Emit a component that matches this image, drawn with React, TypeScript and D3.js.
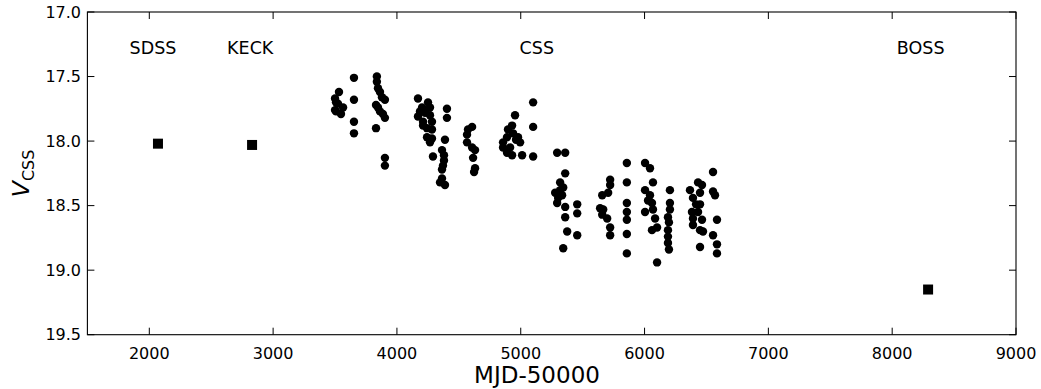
import React from 'react';
import * as d3 from 'd3';

// CSS light curve (MJD-50000, V mag)
const cssMjd = [
  3532, 3500, 3508, 3524, 3565, 3508, 3548, 3500,
  3653, 3653, 3653, 3653,
  3838, 3838, 3847, 3863, 3879, 3903, 3831, 3847, 3863, 3887, 3903, 3831, 3903, 3903,
  4170, 4251, 4203, 4267, 4170, 4227, 4267, 4211, 4283, 4243, 4283, 4243, 4283, 4267, 4211, 4186, 4291,
  4404, 4404, 4388, 4364, 4380, 4372, 4364, 4364, 4388, 4348, 4380,
  4607, 4574, 4566, 4566, 4607, 4631, 4615, 4631, 4623,
  4954, 4930, 4889, 4938, 4978, 4857, 4914, 4995, 4889, 4930, 5011, 4857, 4962, 4897,
  5100, 5100, 5100,
  5294, 5359, 5359, 5318, 5278, 5334, 5294, 5359, 5359, 5318, 5302, 5343,
  5456, 5456, 5375, 5456, 5343,
  5658, 5722, 5722, 5706, 5641, 5666, 5658, 5698, 5722, 5722,
  5857, 5857, 5857, 5857, 5857, 5857, 5857,
  6004, 6044, 6068, 6004, 6044, 6060, 6004, 6068, 6085, 6101, 6060, 6101, 6028,
  6205, 6205, 6205, 6189, 6197, 6189, 6189, 6189, 6197,
  6367, 6432, 6464, 6448, 6391, 6448, 6383, 6432, 6391, 6464, 6391, 6448, 6472, 6448, 6416,
  6553, 6553, 6569, 6585, 6553, 6585, 6585,
];
const cssMag = [
  17.62, 17.67, 17.70, 17.71, 17.74, 17.77, 17.79, 17.76,
  17.51, 17.68, 17.85, 17.94,
  17.50, 17.54, 17.59, 17.62, 17.66, 17.68, 17.72, 17.74, 17.77, 17.79, 17.82, 17.90, 18.13, 18.19,
  17.67, 17.70, 17.74, 17.74, 17.81, 17.78, 17.80, 17.85, 17.85, 17.90, 17.91, 17.97, 17.98, 18.01, 17.88, 17.77, 18.12,
  17.75, 17.82, 17.99, 18.07, 18.11, 18.19, 18.22, 18.29, 18.34, 18.32, 18.15,
  17.89, 17.91, 17.95, 18.01, 18.05, 18.07, 18.13, 18.21, 18.24,
  17.80, 17.88, 17.97, 17.94, 17.97, 18.01, 18.05, 18.01, 18.09, 18.11, 18.11, 18.05, 17.99, 17.91,
  17.70, 17.89, 18.12,
  18.09, 18.09, 18.25, 18.32, 18.40, 18.42, 18.48, 18.51, 18.59, 18.38, 18.44, 18.36,
  18.49, 18.56, 18.70, 18.73, 18.83,
  18.42, 18.30, 18.34, 18.40, 18.52, 18.53, 18.57, 18.60, 18.67, 18.73,
  18.17, 18.32, 18.48, 18.55, 18.61, 18.72, 18.87,
  18.17, 18.21, 18.32, 18.38, 18.42, 18.48, 18.55, 18.53, 18.60, 18.67, 18.69, 18.94, 18.46,
  18.38, 18.48, 18.53, 18.59, 18.63, 18.69, 18.74, 18.79, 18.84,
  18.38, 18.32, 18.34, 18.40, 18.44, 18.49, 18.55, 18.55, 18.60, 18.61, 18.65, 18.69, 18.70, 18.82, 18.49,
  18.24, 18.39, 18.42, 18.61, 18.73, 18.80, 18.87,
];

// spectroscopic epochs
const specNames = ['SDSS', 'KECK', 'BOSS'];
const specMjd = [2070, 2830, 8290];
const specMag = [18.02, 18.03, 19.15];

// survey labels
const labelNames = ['SDSS', 'KECK', 'CSS', 'BOSS'];
const labelMjd = [2030, 2815, 5130, 8230];

const xTicks = [2000, 3000, 4000, 5000, 6000, 7000, 8000, 9000];
const yTicks = [17.0, 17.5, 18.0, 18.5, 19.0, 19.5];

const W = 1041;
const H = 389;
const margin = { left: 87.4, right: 25, top: 12, bottom: 54.3 };

export default function App() {
  const x = d3.scaleLinear().domain([1500, 9000]).range([margin.left, W - margin.right]);
  const y = d3.scaleLinear().domain([17, 19.5]).range([margin.top, H - margin.bottom]);
  const x0 = margin.left, x1 = W - margin.right, y0 = margin.top, y1 = H - margin.bottom;
  const tl = 7;
  const font = 'DejaVu Sans, sans-serif';

  return (
    <svg width={W} height={H} style={{ position: 'absolute', left: 0, top: 0 }} fontFamily={font}>
      <rect width={W} height={H} fill="#fff" />
      {cssMjd.map((m, i) => (
        <circle key={'c' + i} cx={x(m)} cy={y(cssMag[i])} r={4.2} fill="#000" />
      ))}
      {specMjd.map((m, i) => (
        <rect key={specNames[i]} x={x(m) - 5} y={y(specMag[i]) - 5} width={10} height={10} fill="#000" />
      ))}
      {labelNames.map((n, i) => (
        <text key={'l' + n} x={x(labelMjd[i])} y={54} fontSize={17.5} textAnchor="middle">{n}</text>
      ))}

      {/* frame */}
      <rect x={x0} y={y0} width={x1 - x0} height={y1 - y0} fill="none" stroke="#000" strokeWidth={1.1} />

      {xTicks.map(t => (
        <g key={'x' + t}>
          <line x1={x(t)} x2={x(t)} y1={y1} y2={y1 - tl} stroke="#000" strokeWidth={1} />
          <line x1={x(t)} x2={x(t)} y1={y0} y2={y0 + tl} stroke="#000" strokeWidth={1} />
          <text x={x(t)} y={358.5} fontSize={16} textAnchor="middle">{t}</text>
        </g>
      ))}
      {yTicks.map(t => (
        <g key={'y' + t}>
          <line x1={x0} x2={x0 + tl} y1={y(t)} y2={y(t)} stroke="#000" strokeWidth={1} />
          <line x1={x1} x2={x1 - tl} y1={y(t)} y2={y(t)} stroke="#000" strokeWidth={1} />
          <text x={81} y={y(t)} dy="0.35em" fontSize={16} textAnchor="end">{t.toFixed(1)}</text>
        </g>
      ))}

      <text x={537} y={383} fontSize={23} textAnchor="middle">MJD-50000</text>
      <text transform={`translate(29,${(y0 + y1) / 2}) rotate(-90)`} textAnchor="middle">
        <tspan fontSize={23.5} fontStyle="italic">V</tspan>
        <tspan fontSize={16} dy={5}>CSS</tspan>
      </text>
    </svg>
  );
}
